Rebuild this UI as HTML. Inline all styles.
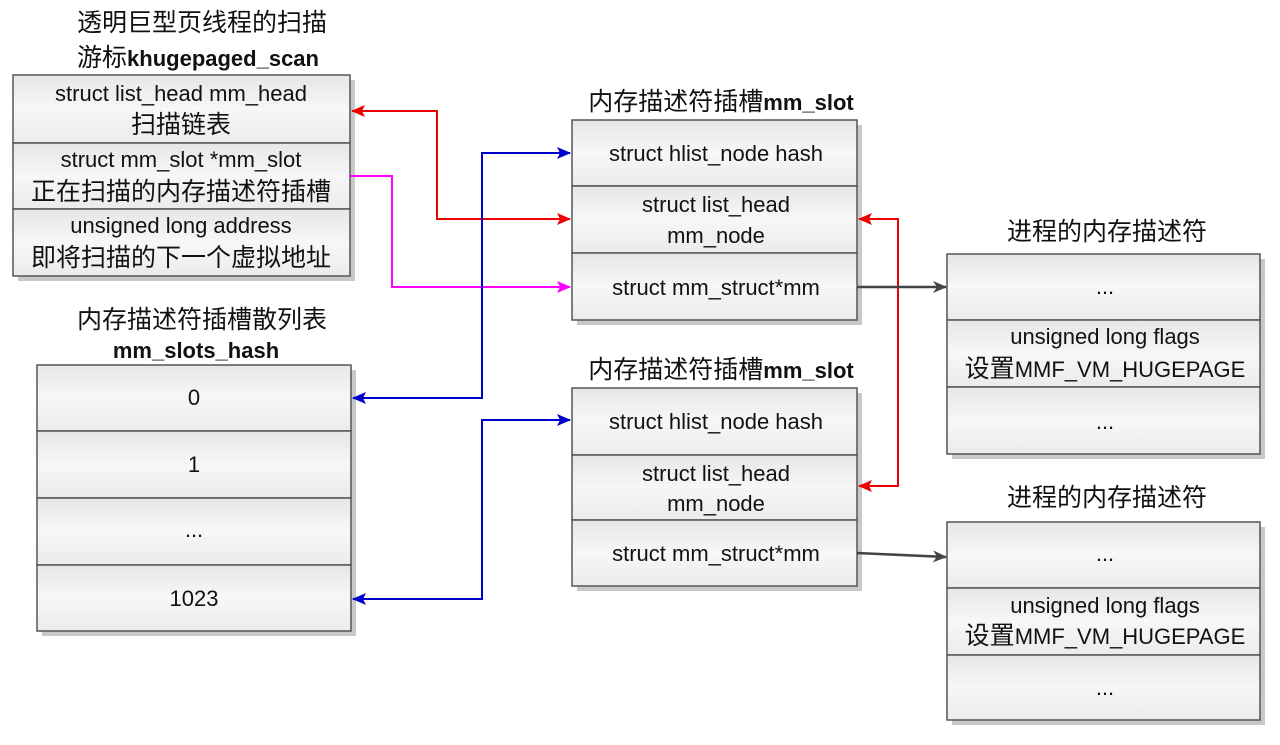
<!DOCTYPE html>
<html><head><meta charset="utf-8"><style>
html,body{margin:0;padding:0;background:#fff}
svg{display:block}
text{font-family:"Liberation Sans","Noto Sans CJK SC",sans-serif;font-size:22px;fill:#111;text-anchor:middle}
.c{font-size:25px}
.b{font-weight:bold}
</style></head><body>
<svg width="1280" height="745" viewBox="0 0 1280 745" xmlns="http://www.w3.org/2000/svg">
<defs>
<linearGradient id="g" x1="0" y1="0" x2="0" y2="1">
<stop offset="0" stop-color="#e6e6e6"/><stop offset="0.5" stop-color="#f7f7f7"/><stop offset="1" stop-color="#ebebeb"/>
</linearGradient>
<marker id="ar" markerWidth="14" markerHeight="12" refX="13" refY="6" orient="auto-start-reverse" markerUnits="userSpaceOnUse"><path d="M0,0 L14,6 L0,12 L3,6z" fill="#e00"/></marker>
<marker id="ab" markerWidth="14" markerHeight="12" refX="13" refY="6" orient="auto-start-reverse" markerUnits="userSpaceOnUse"><path d="M0,0 L14,6 L0,12 L3,6z" fill="#00c"/></marker>
<marker id="am" markerWidth="14" markerHeight="12" refX="13" refY="6" orient="auto-start-reverse" markerUnits="userSpaceOnUse"><path d="M0,0 L14,6 L0,12 L3,6z" fill="#f0f"/></marker>
<marker id="ag" markerWidth="14" markerHeight="12" refX="13" refY="6" orient="auto" markerUnits="userSpaceOnUse"><path d="M0,0 L14,6 L0,12 L4,6z" fill="#444"/></marker>
</defs>
<g fill="#c8c8c8">
<rect x="18" y="80" width="337" height="201"/>
<rect x="42" y="370" width="314" height="266"/>
<rect x="577" y="125" width="285" height="200"/>
<rect x="577" y="393" width="285" height="198"/>
<rect x="952" y="259" width="313" height="200"/>
<rect x="952" y="527" width="313" height="198"/>
</g>
<g stroke="#555" stroke-width="1.5" fill="url(#g)">
<rect x="13" y="75" width="337" height="68"/><rect x="13" y="143" width="337" height="66"/><rect x="13" y="209" width="337" height="67"/>
<rect x="37" y="365" width="314" height="66"/><rect x="37" y="431" width="314" height="67"/><rect x="37" y="498" width="314" height="67"/><rect x="37" y="565" width="314" height="66"/>
<rect x="572" y="120" width="285" height="66"/><rect x="572" y="186" width="285" height="67"/><rect x="572" y="253" width="285" height="67"/>
<rect x="572" y="388" width="285" height="67"/><rect x="572" y="455" width="285" height="65"/><rect x="572" y="520" width="285" height="66"/>
<rect x="947" y="254" width="313" height="66"/><rect x="947" y="320" width="313" height="67"/><rect x="947" y="387" width="313" height="67"/>
<rect x="947" y="522" width="313" height="66"/><rect x="947" y="588" width="313" height="67"/><rect x="947" y="655" width="313" height="65"/>
</g>
<text x="202" y="31" class="c">透明巨型页线程的扫描</text>
<text x="198" y="66"><tspan class="c">游标</tspan><tspan class="b">khugepaged_scan</tspan></text>
<text x="181" y="101">struct list_head mm_head</text><text x="181" y="133" class="c">扫描链表</text>
<text x="181" y="167">struct mm_slot *mm_slot</text><text x="181" y="200" class="c">正在扫描的内存描述符插槽</text>
<text x="181" y="233">unsigned long address</text><text x="181" y="266" class="c">即将扫描的下一个虚拟地址</text>
<text x="202" y="328" class="c">内存描述符插槽散列表</text>
<text x="196" y="358" class="b">mm_slots_hash</text>
<text x="194" y="405">0</text><text x="194" y="472">1</text><text x="194" y="537">...</text><text x="194" y="606">1023</text>
<text x="721" y="110"><tspan class="c">内存描述符插槽</tspan><tspan class="b">mm_slot</tspan></text>
<text x="716" y="161">struct hlist_node hash</text>
<text x="716" y="212">struct list_head</text><text x="716" y="243">mm_node</text>
<text x="716" y="295">struct mm_struct*mm</text>
<text x="721" y="378"><tspan class="c">内存描述符插槽</tspan><tspan class="b">mm_slot</tspan></text>
<text x="716" y="429">struct hlist_node hash</text>
<text x="716" y="481">struct list_head</text><text x="716" y="511">mm_node</text>
<text x="716" y="561">struct mm_struct*mm</text>
<text x="1107" y="240" class="c">进程的内存描述符</text>
<text x="1105" y="294">...</text>
<text x="1105" y="344">unsigned long flags</text><text x="1105" y="377"><tspan class="c">设置</tspan>MMF_VM_HUGEPAGE</text>
<text x="1105" y="429">...</text>
<text x="1107" y="506" class="c">进程的内存描述符</text>
<text x="1105" y="561">...</text>
<text x="1105" y="613">unsigned long flags</text><text x="1105" y="644"><tspan class="c">设置</tspan>MMF_VM_HUGEPAGE</text>
<text x="1105" y="695">...</text>
<g fill="none" stroke-width="2">
<polyline points="352,111 437,111 437,219 570,219" stroke="#e00" marker-start="url(#ar)" marker-end="url(#ar)"/>
<polyline points="859,219 898,219 898,486 859,486" stroke="#e00" marker-start="url(#ar)" marker-end="url(#ar)"/>
<polyline points="350,176 392,176 392,287 570,287" stroke="#f0f" marker-end="url(#am)"/>
<polyline points="353,398 482,398 482,153 570,153" stroke="#00c" marker-start="url(#ab)" marker-end="url(#ab)"/>
<polyline points="353,599 482,599 482,420 570,420" stroke="#00c" marker-start="url(#ab)" marker-end="url(#ab)"/>
<line x1="857" y1="287" x2="946" y2="287" stroke="#444" stroke-width="2.5" marker-end="url(#ag)"/>
<line x1="857" y1="553" x2="946" y2="557" stroke="#444" stroke-width="2.5" marker-end="url(#ag)"/>
</g>
</svg>
</body></html>
